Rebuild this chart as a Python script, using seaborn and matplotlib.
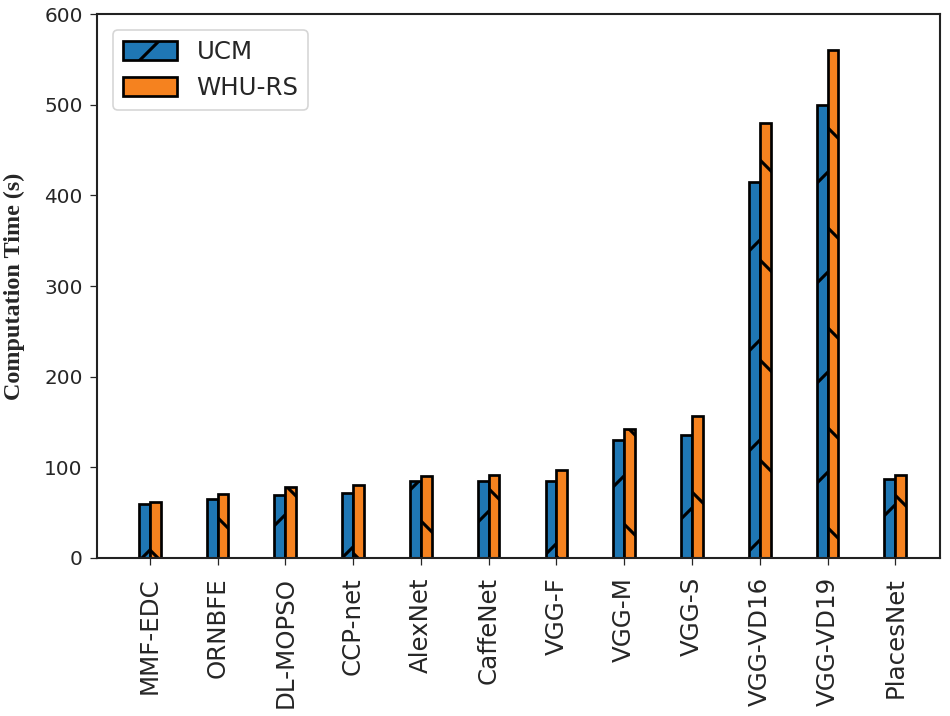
import pandas as pd
import matplotlib
matplotlib.use("Agg")
import matplotlib.pyplot as plt
import seaborn as sns

# Dados
models = ['MMF-EDC', 'ORNBFE', 'DL-MOPSO', 'CCP-net', 'AlexNet', 'CaffeNet',
          'VGG-F', 'VGG-M', 'VGG-S', 'VGG-VD16', 'VGG-VD19', 'PlacesNet']
ucm = [60, 65, 70, 72, 85, 85, 85, 130, 136, 415, 500, 87]
whu = [62, 71, 78, 80, 90, 92, 97, 142, 157, 480, 560, 91]
datasets = ['UCM', 'WHU-RS']
yticks = [0, 100, 200, 300, 400, 500, 600]

df = pd.DataFrame({
    'Model': models * 2,
    'Time': ucm + whu,
    'Dataset': [datasets[0]] * len(models) + [datasets[1]] * len(models),
})

sns.set_theme(style="ticks", rc={
    'axes.edgecolor': '#222222',
    'axes.linewidth': 0.5,
    'xtick.major.size': 1.7,
    'ytick.major.size': 1.7,
    'xtick.major.width': 0.3,
    'ytick.major.width': 0.3,
    'xtick.major.pad': 2.9,
    'ytick.major.pad': 1.7,
    'hatch.linewidth': 0.75,
    'hatch.color': 'black',
})

fig = plt.figure(figsize=(950 / 300, 716 / 300), dpi=300)
ax = fig.add_axes([0.102, 0.2207, 0.8875, 0.7597])

sns.barplot(data=df, x='Model', y='Time', hue='Dataset', ax=ax,
            palette=['#1f77b4', '#f5821f'], width=0.32, gap=0,
            edgecolor='black', linewidth=0.65, legend=False, saturation=1)

for cont, h in zip(ax.containers, ['/', '\\']):
    for bar in cont:
        bar.set_hatch(h)

ax.set_xlim(-0.78, 11.66)
ax.set_ylim(0, 600)
ax.set_yticks(yticks)
ax.tick_params(axis='y', labelsize=4.8)
ax.tick_params(axis='x', labelsize=5.9, rotation=90)
ax.set_xlabel('')
ax.set_ylabel('Computation Time (s)', fontsize=5.8, fontweight='bold',
              family='Liberation Serif', labelpad=4.6)

ax.legend(ax.containers, datasets, loc='upper left', fontsize=5.9,
          handlelength=2.2, handleheight=0.8, borderaxespad=0.65,
          frameon=True, framealpha=0.8, edgecolor='#cccccc')
ax.get_legend().get_frame().set_linewidth(0.4)

fig.savefig('out.png', dpi=300)
